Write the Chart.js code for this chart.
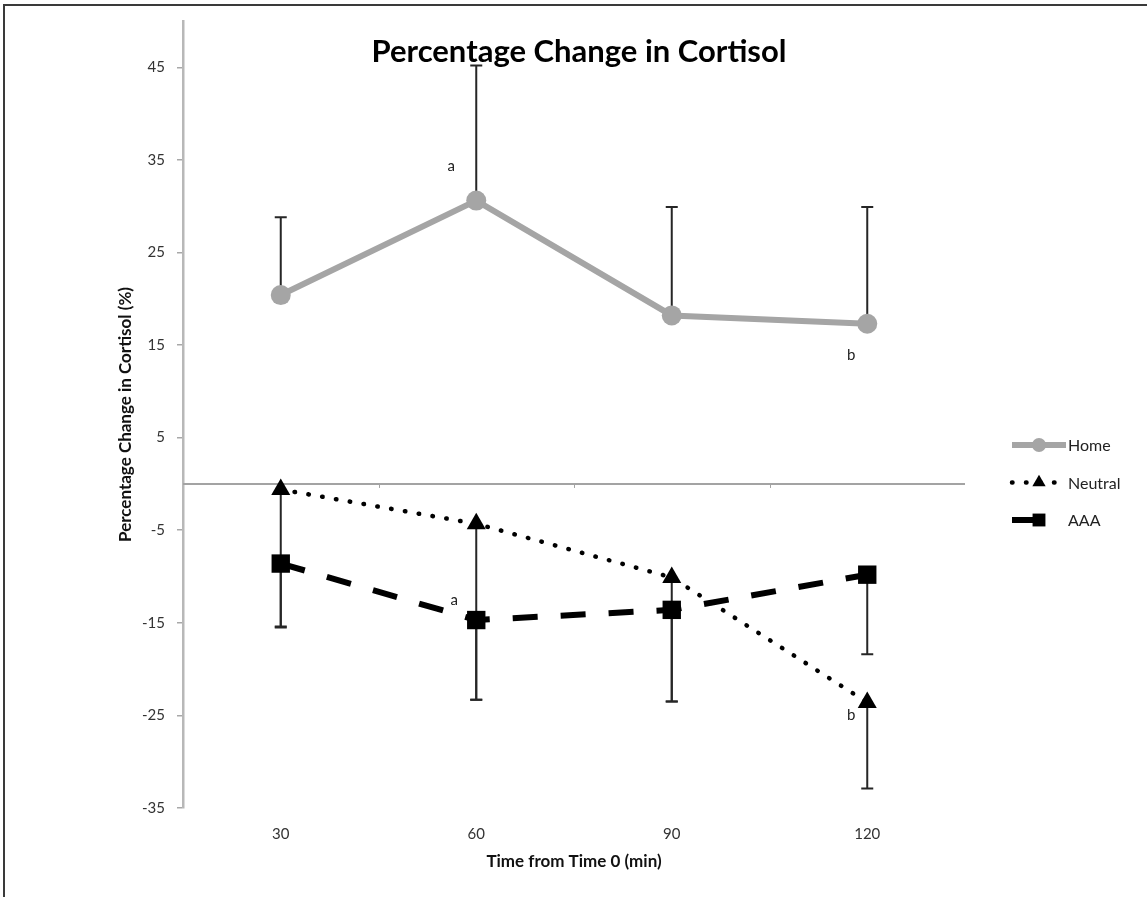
<!DOCTYPE html>
<html>
<head>
<meta charset="utf-8">
<script src="https://cdn.jsdelivr.net/npm/chart.js@4.4.1/dist/chart.umd.min.js"></script>
<style>
  html, body { margin: 0; padding: 0; background: #fff; overflow: hidden; }
  #frame { position: absolute; left: 3px; top: 4px; width: 1300px; height: 1000px;
           border-left: 2px solid #3a3a3a; border-top: 2px solid #3a3a3a; }
  #wrap { position: absolute; left: 0; top: 0; width: 1147px; height: 897px; }
</style>
</head>
<body>
<div id="frame"></div>
<div id="wrap"><canvas id="chart"></canvas></div>
<script>
// Data
const timePoints = ['30', '60', '90', '120'];
const yTicks = [-35, -25, -15, -5, 5, 15, 25, 35, 45];

const home = [20.4, 30.6, 18.2, 17.3];
const neutral = [-0.6, -4.3, -10.1, -23.6];
const aaa = [-8.6, -14.7, -13.6, -9.8];

// error bars (home: upper only, neutral/AAA: lower only)
const homeErrUp = [8.4, 14.6, 11.7, 12.6];
const neutralErrDown = [14.8, 19.0, 13.4, 9.3];
const aaaErrDown = [6.9, 8.6, 9.9, 8.6];

// significance letters
const noteText = ['a', 'b', 'a', 'b'];
const noteIndex = [1, 3, 1, 3];
const noteValue = [34.3, 13.9, -12.6, -25.0];

const FONT = 'Lato, "Open Sans", "DejaVu Sans", sans-serif';

// Zero line across the plot (horizontal axis crosses at 0)
const zeroLine = {
    id: 'zeroLine',
    beforeDatasetsDraw(chart) {
        const { ctx, chartArea, scales } = chart;
        const y0 = scales.y.getPixelForValue(0);
        ctx.save();
        ctx.strokeStyle = '#a3a3a3';
        ctx.lineWidth = 2;
        ctx.beginPath();
        ctx.moveTo(chartArea.left, y0);
        ctx.lineTo(chartArea.right, y0);
        ctx.stroke();
        ctx.lineWidth = 1;
        for (let i = 0; i < timePoints.length - 1; i++) {
            const x = Math.round(scales.x.getPixelForValue(i + 0.5)) + 0.5;
            ctx.beginPath();
            ctx.moveTo(x, y0);
            ctx.lineTo(x, y0 + 4);
            ctx.stroke();
        }
        ctx.restore();
    }
};

// Error bars
const errorBars = {
    id: 'errorBars',
    beforeDatasetsDraw(chart) {
        const { ctx, scales } = chart;
        const sets = [
            { vals: home, err: homeErrUp, dir: 1 },
            { vals: neutral, err: neutralErrDown, dir: -1 },
            { vals: aaa, err: aaaErrDown, dir: -1 }
        ];
        ctx.save();
        ctx.strokeStyle = '#262626';
        ctx.lineWidth = 2;
        sets.forEach(s => {
            s.vals.forEach((v, i) => {
                const x = scales.x.getPixelForValue(i);
                const y1 = scales.y.getPixelForValue(v);
                const y2 = scales.y.getPixelForValue(v + s.dir * s.err[i]);
                ctx.beginPath();
                ctx.moveTo(x, y1);
                ctx.lineTo(x, y2);
                ctx.moveTo(x - 6, y2);
                ctx.lineTo(x + 6, y2);
                ctx.stroke();
            });
        });
        ctx.restore();
    }
};

// Title, letters and legend
const extras = {
    id: 'extras',
    afterDraw(chart) {
        const { ctx, chartArea, scales } = chart;
        ctx.save();
        // title
        ctx.fillStyle = '#000';
        ctx.font = 'bold 31px ' + FONT;
        ctx.textAlign = 'center';
        ctx.textBaseline = 'middle';
        ctx.fillText('Percentage Change in Cortisol', (chartArea.left + chartArea.right) / 2 + 5, chartArea.top + 31);

        // letters
        const dx = [-25, -16, -22, -16];
        ctx.font = '15px ' + FONT;
        ctx.fillStyle = '#222';
        noteText.forEach((t, i) => {
            const x = scales.x.getPixelForValue(noteIndex[i]) + dx[i];
            const y = scales.y.getPixelForValue(noteValue[i]);
            ctx.fillText(t, x, y);
        });

        // legend
        const x0 = chartArea.right + 47;
        const x1 = chartArea.right + 101;
        chart.data.datasets.forEach((ds, i) => {
            const y = 445 + i * 37.5;
            const dash = ds.borderDash || [];
            const end = dash.length && dash[0] > 5 ? x0 + 40 : x1;
            ctx.save();
            ctx.strokeStyle = ds.borderColor;
            ctx.lineWidth = ds.borderWidth;
            ctx.lineCap = ds.borderCapStyle || 'butt';
            ctx.setLineDash(dash);
            ctx.beginPath();
            ctx.moveTo(x0, y);
            ctx.lineTo(end, y);
            ctx.stroke();
            ctx.restore();
            ctx.fillStyle = ds.backgroundColor;
            Chart.helpers.drawPoint(ctx, {
                pointStyle: ds.pointStyle,
                radius: ds.pointRadius * 0.7,
                borderWidth: 0,
                rotation: 0
            }, (x0 + x1) / 2, y);
            ctx.fillStyle = '#222';
            ctx.font = '16px ' + FONT;
            ctx.textAlign = 'left';
            ctx.fillText(ds.label, x1 + 2, y + 1);
        });
        ctx.restore();
    }
};

const ctx = document.getElementById('chart').getContext('2d');
const cortisolChart = new Chart(ctx, {
    type: 'line',
    data: {
        labels: timePoints,
        datasets: [
            {
                label: 'Home',
                data: home,
                borderColor: '#a5a5a5',
                backgroundColor: '#a5a5a5',
                borderWidth: 6,
                pointStyle: 'circle',
                pointRadius: 10,
                pointBorderWidth: 0
            },
            {
                label: 'Neutral',
                data: neutral,
                borderColor: '#000',
                backgroundColor: '#000',
                borderWidth: 4.5,
                borderDash: [0.5, 13.5],
                borderCapStyle: 'round',
                pointStyle: 'triangle',
                pointRadius: 11,
                pointBorderWidth: 0
            },
            {
                label: 'AAA',
                data: aaa,
                borderColor: '#000',
                backgroundColor: '#000',
                borderWidth: 6,
                borderDash: [25, 23],
                pointStyle: 'rect',
                pointRadius: 13,
                pointBorderWidth: 0
            }
        ]
    },
    options: {
        responsive: true,
        maintainAspectRatio: false,
        animation: false,
        layout: { padding: { left: 100, right: 182, top: 20, bottom: 0 } },
        plugins: {
            legend: { display: false },
            tooltip: { enabled: false }
        },
        scales: {
            x: {
                offset: true,
                grid: { display: false },
                border: { display: false },
                ticks: { color: '#333', font: { size: 15, family: FONT }, padding: 9 },
                title: {
                    display: true,
                    text: 'Time from Time 0 (min)',
                    color: '#111',
                    font: { size: 17, weight: 'bold', family: FONT },
                    padding: { top: 0, bottom: 25 }
                },
                afterFit: s => { s.height = 89; }
            },
            y: {
                min: -35,
                max: 50,
                afterBuildTicks: s => { s.ticks = yTicks.map(v => ({ value: v })); },
                grid: { drawOnChartArea: false, drawTicks: true, tickLength: 6, color: '#a8a8a8', lineWidth: 1.5 },
                border: { color: '#b8b8b8', width: 2.5 },
                ticks: { color: '#333', font: { size: 15, family: FONT }, padding: 12 },
                title: {
                    display: true,
                    text: 'Percentage Change in Cortisol (%)',
                    color: '#111',
                    font: { size: 17, weight: 'bold', family: FONT },
                    padding: { top: 15, bottom: 0 }
                },
                afterFit: s => { s.width = 83; }
            }
        }
    },
    plugins: [zeroLine, errorBars, extras]
});
</script>
</body>
</html>
